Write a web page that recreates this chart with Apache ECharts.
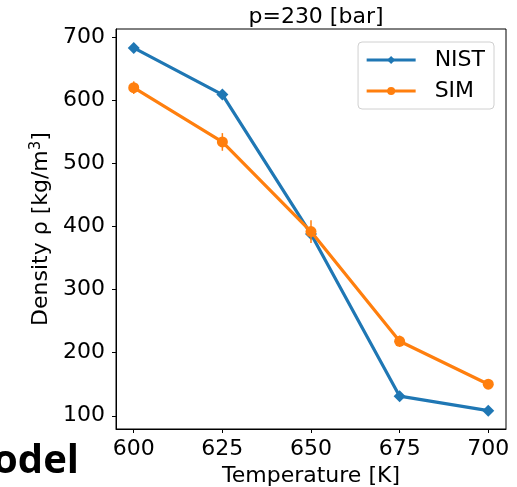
<!DOCTYPE html>
<html>
<head>
<meta charset="utf-8">
<script src="https://cdn.jsdelivr.net/npm/echarts@6/dist/echarts.min.js"></script>
<style>
  html, body { margin: 0; padding: 0; background: #fff; }
  #chart { width: 517px; height: 487px; }
</style>
</head>
<body>
<div id="chart"></div>
<script>
// Temperatures [K]
const temperatures = [600, 625, 650, 675, 700];
// Reference density (NIST) [kg/m^3]
const nistDensity = [683, 609, 388, 131, 108];
// Simulated density and its uncertainty [kg/m^3]
const simDensity = [620, 534, 392, 218, 150];
const simError = [10, 14, 18, 9, 3];
// Tick labels
const xTicks = [600, 625, 650, 675, 700];
const yTicks = [100, 200, 300, 400, 500, 600, 700];

const FONT = '"DejaVu Sans", sans-serif';
const FS = 22;
const BLUE = '#1f77b4';
const ORANGE = '#ff7f0e';

const nistData = temperatures.map((t, i) => [t, nistDensity[i]]);
const simData = temperatures.map((t, i) => [t, simDensity[i]]);
const errData = temperatures.map((t, i) => [t, simDensity[i], simError[i]]);

const chart = echarts.init(document.getElementById('chart'));
chart.setOption({
  animation: false,
  backgroundColor: '#fff',
  title: {
    text: 'p=230 [bar]',
    left: 311,
    top: 1,
    textAlign: 'center',
    textStyle: { fontFamily: FONT, fontSize: FS, fontWeight: 'normal', color: '#000' }
  },
  grid: {
    left: 116, right: 11, top: 29, bottom: 58,
    outerBoundsMode: 'none',
    containLabel: false,
    show: true, borderColor: '#000', borderWidth: 1, backgroundColor: 'transparent'
  },
  legend: {
    data: ['NIST', 'SIM'],
    orient: 'vertical',
    right: 23,
    top: 42,
    itemWidth: 49,
    itemHeight: 10,
    itemGap: 9,
    padding: [7, 9, 7, 7],
    borderColor: '#d0d0d0',
    borderWidth: 1,
    borderRadius: 4,
    backgroundColor: 'rgba(255,255,255,0.8)',
    lineStyle: { width: 3.2 },
    textStyle: { fontFamily: FONT, fontSize: FS, color: '#000', padding: [0, 0, 0, 14] }
  },
  xAxis: {
    type: 'value',
    min: 595,
    max: 705,
    name: 'Temperature [K]',
    nameLocation: 'middle',
    nameGap: 33,
    nameTextStyle: { fontFamily: FONT, fontSize: FS, color: '#000' },
    splitLine: { show: false },
    axisLine: { show: true, lineStyle: { color: '#000', width: 1 } },
    axisTick: { show: true, length: 4, customValues: xTicks, lineStyle: { color: '#000' } },
    axisLabel: { customValues: xTicks, fontFamily: FONT, fontSize: FS, color: '#000', margin: 9 }
  },
  yAxis: {
    type: 'value',
    min: 79,
    max: 713,
    name: '{a|Density ρ [kg/m}{s|3}{a|]}',
    nameLocation: 'middle',
    nameGap: 52,
    nameRotate: 90,
    nameTextStyle: {
      rich: {
        a: { fontFamily: FONT, fontSize: FS, color: '#000' },
        s: { fontFamily: FONT, fontSize: 15, color: '#000', verticalAlign: 'top', padding: [0, 0, 10, 0] }
      }
    },
    splitLine: { show: false },
    axisLine: { show: true, lineStyle: { color: '#000', width: 1 } },
    axisTick: { show: true, length: 4, customValues: yTicks, lineStyle: { color: '#000' } },
    axisLabel: { customValues: yTicks, fontFamily: FONT, fontSize: FS, color: '#000', margin: 11 }
  },
  series: [
    {
      name: 'NIST',
      type: 'line',
      data: nistData,
      symbol: 'diamond',
      symbolSize: 12,
      itemStyle: { color: BLUE },
      lineStyle: { color: BLUE, width: 3.2 },
      z: 2
    },
    {
      name: 'SIM',
      type: 'line',
      data: simData,
      symbol: 'circle',
      symbolSize: 11,
      itemStyle: { color: ORANGE },
      lineStyle: { color: ORANGE, width: 3.2 },
      z: 3
    },
    {
      name: 'SIM error',
      type: 'custom',
      data: errData,
      z: 4,
      renderItem: function (params, api) {
        const x = api.value(0), y = api.value(1), e = api.value(2);
        const p1 = api.coord([x, y - e]);
        const p2 = api.coord([x, y + e]);
        return {
          type: 'line',
          shape: { x1: p1[0], y1: p1[1], x2: p2[0], y2: p2[1] },
          style: { stroke: ORANGE, lineWidth: 1.5 }
        };
      }
    }
  ],
  graphic: [
    {
      type: 'text',
      x: 79,
      y: 462,
      style: {
        text: 'odel',
        font: 'bold 40px "Open Sans", sans-serif',
        fill: '#000',
        align: 'right',
        verticalAlign: 'middle'
      }
    }
  ]
});
</script>
</body>
</html>
